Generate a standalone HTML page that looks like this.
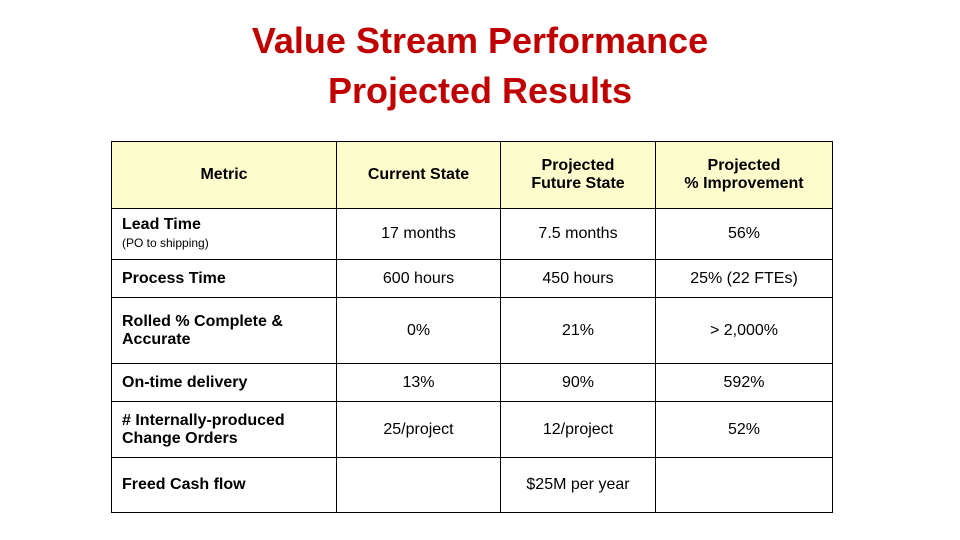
<!DOCTYPE html>
<html><head><meta charset="utf-8"><style>
body{margin:0;width:960px;height:540px;background:#fff;position:relative;overflow:hidden;font-family:"Liberation Sans",Calibri,sans-serif;}
.title{position:absolute;left:0;width:960px;text-align:center;color:#c00000;font-weight:bold;font-size:36px;line-height:48px;}
table{position:absolute;left:111px;top:141px;border-collapse:collapse;font-size:16px;color:#000;}
td{border:1px solid #000;text-align:center;padding:0 6px;box-sizing:border-box;}
tr.h td{background:#fdfccc;font-weight:bold;}
td.m{text-align:left;font-weight:bold;padding-left:10px;}
small{font-weight:normal;font-size:12px;}
</style></head><body>
<div class="title" style="top:17px">Value Stream Performance</div>
<div class="title" style="top:67px">Projected Results</div>
<table>
<colgroup><col style="width:225px"><col style="width:164px"><col style="width:155px"><col style="width:177px"></colgroup>
<tr class="h" style="height:67px"><td>Metric</td><td>Current State</td><td>Projected<br>Future State</td><td>Projected<br>% Improvement</td></tr>
<tr style="height:51px"><td class="m">Lead Time<br><small>(PO to shipping)</small></td><td>17 months</td><td>7.5 months</td><td>56%</td></tr>
<tr style="height:38px"><td class="m">Process Time</td><td>600 hours</td><td>450 hours</td><td>25% (22 FTEs)</td></tr>
<tr style="height:66px"><td class="m">Rolled % Complete &amp;<br>Accurate</td><td>0%</td><td>21%</td><td>&gt; 2,000%</td></tr>
<tr style="height:38px"><td class="m">On-time delivery</td><td>13%</td><td>90%</td><td>592%</td></tr>
<tr style="height:56px"><td class="m"># Internally-produced<br>Change Orders</td><td>25/project</td><td>12/project</td><td>52%</td></tr>
<tr style="height:55px"><td class="m">Freed Cash flow</td><td></td><td>$25M per year</td><td></td></tr>
</table>
</body></html>
